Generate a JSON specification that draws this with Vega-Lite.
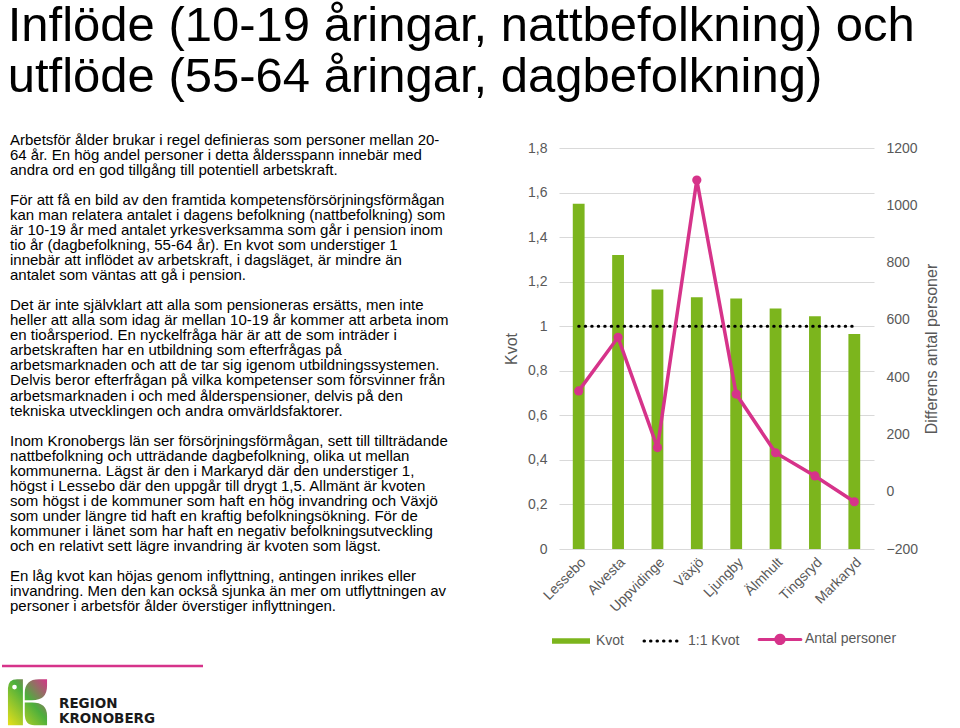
{
  "$schema": "https://vega.github.io/schema/vega-lite/v6.json",
  "background": "white",
  "padding": {"left": 0, "top": 1, "right": 0, "bottom": 0},
  "bounds": "flush",
  "spacing": 77,
  "title": {
    "text": ["Inflöde (10-19 åringar, nattbefolkning) och", "utflöde (55-64 åringar, dagbefolkning)"],
    "font": "Liberation Sans",
    "fontSize": 49,
    "fontWeight": "normal",
    "color": "black",
    "anchor": "start",
    "lineHeight": 51.5,
    "offset": 31,
    "dx": 7
  },
  "config": {"view": {"stroke": null}, "font": "Liberation Sans"},
  "resolve": {"scale": {"color": "independent"}, "legend": {"color": "independent"}},
  "datasets": {
    "lines": [
      {"line": 0, "txt": "Arbetsför ålder brukar i regel definieras som personer mellan 20-"},
      {"line": 1, "txt": "64 år. En hög andel personer i detta åldersspann innebär med"},
      {"line": 2, "txt": "andra ord en god tillgång till potentiell arbetskraft."},
      {"line": 4, "txt": "För att få en bild av den framtida kompetensförsörjningsförmågan"},
      {"line": 5, "txt": "kan man relatera antalet i dagens befolkning (nattbefolkning) som"},
      {"line": 6, "txt": "är 10-19 år med antalet yrkesverksamma som går i pension inom"},
      {"line": 7, "txt": "tio år (dagbefolkning, 55-64 år). En kvot som understiger 1"},
      {"line": 8, "txt": "innebär att inflödet av arbetskraft, i dagsläget, är mindre än"},
      {"line": 9, "txt": "antalet som väntas att gå i pension."},
      {"line": 11, "txt": "Det är inte självklart att alla som pensioneras ersätts, men inte"},
      {"line": 12, "txt": "heller att alla som idag är mellan 10-19 år kommer att arbeta inom"},
      {"line": 13, "txt": "en tioårsperiod. En nyckelfråga här är att de som inträder i"},
      {"line": 14, "txt": "arbetskraften har en utbildning som efterfrågas på"},
      {"line": 15, "txt": "arbetsmarknaden och att de tar sig igenom utbildningssystemen."},
      {"line": 16, "txt": "Delvis beror efterfrågan på vilka kompetenser som försvinner från"},
      {"line": 17, "txt": "arbetsmarknaden i och med ålderspensioner, delvis på den"},
      {"line": 18, "txt": "tekniska utvecklingen och andra omvärldsfaktorer."},
      {"line": 20, "txt": "Inom Kronobergs län ser försörjningsförmågan, sett till tillträdande"},
      {"line": 21, "txt": "nattbefolkning och utträdande dagbefolkning, olika ut mellan"},
      {"line": 22, "txt": "kommunerna. Lägst är den i Markaryd där den understiger 1,"},
      {"line": 23, "txt": "högst i Lessebo där den uppgår till drygt 1,5. Allmänt är kvoten"},
      {"line": 24, "txt": "som högst i de kommuner som haft en hög invandring och Växjö"},
      {"line": 25, "txt": "som under längre tid haft en kraftig befolkningsökning. För de"},
      {"line": 26, "txt": "kommuner i länet som har haft en negativ befolkningsutveckling"},
      {"line": 27, "txt": "och en relativt sett lägre invandring är kvoten som lägst."},
      {"line": 29, "txt": "En låg kvot kan höjas genom inflyttning, antingen inrikes eller"},
      {"line": 30, "txt": "invandring. Men den kan också sjunka än mer om utflyttningen av"},
      {"line": 31, "txt": "personer i arbetsför ålder överstiger inflyttningen."}
    ],
    "logo": [
      {"line": 37.5, "txt": "REGION"},
      {"line": 38.5, "txt": "KRONOBERG"}
    ],
    "kommuner": [
      {"kommun": "Lessebo", "kvot": 1.55, "ett": 1, "antal": 352},
      {"kommun": "Alvesta", "kvot": 1.32, "ett": 1, "antal": 539},
      {"kommun": "Uppvidinge", "kvot": 1.165, "ett": 1, "antal": 154},
      {"kommun": "Växjö", "kvot": 1.13, "ett": 1, "antal": 1088},
      {"kommun": "Ljungby", "kvot": 1.125, "ett": 1, "antal": 341},
      {"kommun": "Älmhult", "kvot": 1.08, "ett": 1, "antal": 136},
      {"kommun": "Tingsryd", "kvot": 1.045, "ett": 1, "antal": 55},
      {"kommun": "Markaryd", "kvot": 0.965, "ett": 1, "antal": -35}
    ]
  },
  "hconcat": [
    {
      "width": 480,
      "height": 580,
      "layer": [
        {
          "data": {"name": "lines"},
          "mark": {"type": "text", "align": "left", "baseline": "middle", "fontSize": 15, "font": "Liberation Sans", "color": "black"},
          "encoding": {
            "x": {"value": 8},
            "y": {"field": "line", "type": "quantitative", "scale": {"domain": [0.532, 39.12], "reverse": true, "nice": false, "zero": false}, "axis": null},
            "text": {"field": "txt", "type": "nominal"}
          }
        },
        {
          "data": {"values": [{}]},
          "mark": {"type": "rule", "color": "#d6338a", "strokeWidth": 2.5},
          "encoding": {
            "y": {"datum": 35.0, "type": "quantitative"},
            "x": {"value": 0},
            "x2": {"value": 201}
          }
        },
        {
          "data": {"values": [{}]},
          "mark": {
            "type": "point",
            "filled": true,
            "opacity": 1,
            "size": 2116,
            "strokeWidth": 0,
            "shape": "M-0.85,1 V-0.6 Q-0.85,-1 -0.45,-1 H-0.2 V1 Z M-0.12,-0.08 V-0.4 Q-0.12,-1 0.5,-1 H0.85 V-0.7 Q0.85,-0.08 0.2,-0.08 Z M-0.12,0.02 H0.2 Q0.85,0.02 0.85,0.6 V1 H0.3 Q-0.12,1 -0.12,0.5 Z",
            "fill": {
              "gradient": "linear",
              "x1": 1, "y1": 0, "x2": 0, "y2": 1,
              "stops": [
                {"offset": 0, "color": "#d6338a"},
                {"offset": 0.45, "color": "#4caf3c"},
                {"offset": 1, "color": "#e6e01a"}
              ]
            }
          },
          "encoding": {
            "y": {"datum": 37.4, "type": "quantitative"},
            "x": {"value": 25.5}
          }
        },
        {
          "data": {"values": [{}]},
          "mark": {"type": "point", "filled": true, "opacity": 1, "size": 22, "shape": "circle", "color": "white"},
          "encoding": {
            "y": {"datum": 36.4, "type": "quantitative"},
            "x": {"value": 12.5}
          }
        },
        {
          "data": {"name": "logo"},
          "mark": {"type": "text", "align": "left", "baseline": "middle", "fontSize": 13.5, "font": "DejaVu Sans", "fontWeight": "bold", "color": "#1a1a1a"},
          "encoding": {
            "x": {"value": 57},
            "y": {"field": "line", "type": "quantitative"},
            "text": {"field": "txt", "type": "nominal"}
          }
        }
      ]
    },
    {
      "width": 315,
      "height": 401,
      "data": {"name": "kommuner"},
      "encoding": {
        "x": {
          "field": "kommun",
          "type": "nominal",
          "sort": null,
          "scale": {"paddingInner": 0.7, "paddingOuter": 0.35},
          "axis": {
            "title": null,
            "labelAngle": -45,
            "labelFontSize": 14,
            "labelColor": "#595959",
            "labelFont": "Liberation Sans",
            "ticks": false,
            "domain": false,
            "labelPadding": 6
          }
        }
      },
      "layer": [
        {
          "layer": [
            {
              "mark": {"type": "bar"},
              "encoding": {
                "y": {
                  "field": "kvot",
                  "type": "quantitative",
                  "scale": {"domain": [0, 1.8], "nice": false},
                  "axis": {
                    "title": "Kvot",
                    "titleFontSize": 16,
                    "titleFontWeight": "normal",
                    "titleColor": "#595959",
                    "titleFont": "Liberation Sans",
                    "titlePadding": 8,
                    "labelFontSize": 14,
                    "labelColor": "#595959",
                    "labelFont": "Liberation Sans",
                    "labelPadding": 12,
                    "values": [0, 0.2, 0.4, 0.6, 0.8, 1, 1.2, 1.4, 1.6, 1.8],
                    "labelExpr": "replace(format(datum.value, '~g'), '.', ',')",
                    "ticks": false,
                    "domain": false,
                    "gridColor": "#d9d9d9",
                    "gridWidth": 1
                  }
                },
                "color": {
                  "datum": "Kvot",
                  "type": "nominal",
                  "scale": {"domain": ["Kvot", "1:1 Kvot", "Antal personer"], "range": ["#7cb51d", "#000000", "#d6338a"]},
                  "legend": {
                    "orient": "bottom",
                    "direction": "horizontal",
                    "title": null,
                    "labelFontSize": 14,
                    "labelColor": "#595959",
                    "labelFont": "Liberation Sans",
                    "symbolSize": 1444,
                    "symbolStrokeWidth": 3,
                    "symbolOffset": 5,
                    "columnPadding": 13,
                    "labelOffset": 18,
                    "offset": 17,
                    "encode": {
                      "symbols": {
                        "update": {
                          "shape": {"signal": "datum.value === 'Kvot' ? 'M-1,-0.15H1V0.15H-1Z' : (datum.value === '1:1 Kvot' ? 'M-1,0H1' : 'M-1.1,0H1.1M0.22,0A0.22,0.22 0 1,1 -0.22,0A0.22,0.22 0 1,1 0.22,0')"},
                          "fill": {"signal": "datum.value === 'Kvot' ? '#7cb51d' : (datum.value === '1:1 Kvot' ? 'transparent' : '#d6338a')"},
                          "stroke": {"signal": "datum.value === 'Kvot' ? 'transparent' : (datum.value === '1:1 Kvot' ? '#000000' : '#d6338a')"},
                          "strokeWidth": {"signal": "datum.value === 'Kvot' ? 0 : 3"},
                          "strokeDash": {"signal": "datum.value === '1:1 Kvot' ? [0.5, 6] : [1, 0]"},
                          "strokeCap": {"value": "round"},
                          "opacity": {"value": 1},
                          "size": {"value": 1444}
                        }
                      }
                    }
                  }
                }
              }
            },
            {
              "mark": {"type": "line", "strokeDash": [0.5, 6], "strokeCap": "round", "strokeWidth": 3},
              "encoding": {
                "y": {"field": "ett", "type": "quantitative", "scale": {"domain": [0, 1.8], "nice": false}},
                "color": {"datum": "1:1 Kvot", "type": "nominal"}
              }
            }
          ]
        },
        {
          "mark": {"type": "line", "strokeWidth": 3.5, "point": {"filled": true, "size": 85, "opacity": 1}},
          "encoding": {
            "y": {
              "field": "antal",
              "type": "quantitative",
              "scale": {"domain": [-200, 1200], "nice": false},
              "axis": {
                "orient": "right",
                "title": "Differens antal personer",
                "titleAngle": 270,
                "titleFontSize": 16,
                "titleFontWeight": "normal",
                "titleColor": "#595959",
                "titleFont": "Liberation Sans",
                "titlePadding": 22,
                "labelFontSize": 14,
                "labelColor": "#595959",
                "labelFont": "Liberation Sans",
                "labelPadding": 12,
                "format": "d",
                "values": [-200, 0, 200, 400, 600, 800, 1000, 1200],
                "grid": false,
                "ticks": false,
                "domain": false
              }
            },
            "color": {"datum": "Antal personer", "type": "nominal"}
          }
        }
      ],
      "resolve": {"scale": {"y": "independent"}}
    }
  ]
}
